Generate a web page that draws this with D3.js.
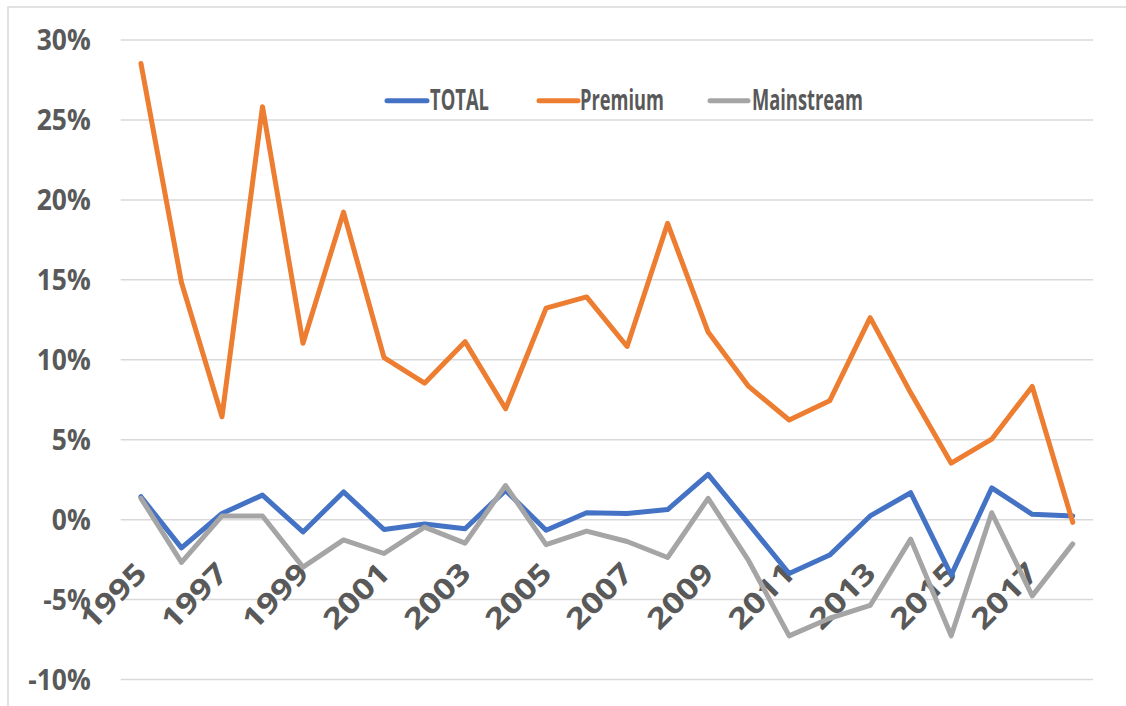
<!DOCTYPE html>
<html>
<head>
<meta charset="utf-8">
<script src="https://cdn.jsdelivr.net/npm/d3@7"></script>
<style>
  body { margin: 0; background: #fff; }
  svg { display: block; font-family: "Open Sans", "Noto Sans", sans-serif; }
</style>
</head>
<body>
<div id="chart"></div>
<script>
// data (annual % change)
const years = d3.range(1995, 2019).map(String);
const yTicks = [-10, -5, 0, 5, 10, 15, 20, 25, 30];
const total = [1.4, -1.8, 0.35, 1.5, -0.8, 1.7, -0.65, -0.3, -0.6, 1.8, -0.7, 0.4,
               0.35, 0.6, 2.8, -0.3, -3.4, -2.25, 0.2, 1.65, -3.5, 1.95, 0.3, 0.2];
const premium = [28.5, 14.8, 6.4, 25.8, 11.0, 19.2, 10.1, 8.5, 11.1, 6.9, 13.2, 13.9,
                 10.8, 18.5, 11.7, 8.3, 6.2, 7.4, 12.6, 7.9, 3.5, 5.0, 8.3, -0.2];
const mainstream = [1.3, -2.7, 0.2, 0.2, -3.0, -1.3, -2.15, -0.5, -1.5, 2.1, -1.6, -0.75,
                    -1.4, -2.4, 1.3, -2.6, -7.3, -6.2, -5.4, -1.25, -7.3, 0.4, -4.8, -1.55];

const series = [
  { name: "TOTAL", values: total, color: "#4472C4" },
  { name: "Premium", values: premium, color: "#ED7D31" },
  { name: "Mainstream", values: mainstream, color: "#A5A5A5" }
];

const W = 1126, H = 706;
const plot = { left: 120.7, right: 1093, top: 39.5, bottom: 679 };

const svg = d3.select("#chart").append("svg")
    .attr("width", W)
    .attr("height", H);

// outer frame (only top and left edges are visible in the picture)
svg.append("path")
    .attr("d", `M8,${H} L8,7 L${W},7`)
    .attr("fill", "none")
    .attr("stroke", "#d9d9d9")
    .attr("stroke-width", 1.5);

const x = d3.scalePoint()
    .domain(years)
    .range([plot.left, plot.right])
    .padding(0.5);

const y = d3.scaleLinear()
    .domain([-10, 30])
    .range([plot.bottom, plot.top]);

// gridlines
svg.append("g")
    .attr("transform", `translate(${plot.left},0)`)
    .call(d3.axisLeft(y).tickValues(yTicks).tickSize(-(plot.right - plot.left)).tickFormat(""))
    .call(g => g.select(".domain").remove())
    .call(g => g.selectAll("line").attr("stroke", "#d9d9d9").attr("stroke-width", 1.5));

// y labels (the reference font is a bit narrower than Open Sans, so squeeze it)
svg.append("g")
    .attr("transform", `translate(${plot.left - 30},0)`)
    .call(d3.axisLeft(y).tickValues(yTicks).tickSize(0).tickPadding(0).tickFormat(d => d + "%"))
    .call(g => g.select(".domain").remove())
    .call(g => g.selectAll("text")
        .attr("font-family", "Open Sans, sans-serif")
        .attr("font-size", 29)
        .attr("font-weight", 700)
        .attr("fill", "#595959")
        .attr("dy", "0.36em")
        .each(function() {
          const len = this.getComputedTextLength();
          d3.select(this).attr("textLength", len * 0.91).attr("lengthAdjust", "spacingAndGlyphs");
        }));

// x labels, every other year, rotated and stretched along the text direction
svg.append("g")
    .attr("transform", `translate(0,${y(0)})`)
    .call(d3.axisBottom(x).tickValues(years.filter((d, i) => i % 2 === 0)).tickSize(0).tickFormat(d => d))
    .call(g => g.select(".domain").remove())
    .call(g => g.selectAll("text")
        .attr("font-family", "Open Sans, sans-serif")
        .attr("font-size", 29)
        .attr("font-weight", 700)
        .attr("fill", "#595959")
        .attr("text-anchor", "end")
        .attr("y", 0)
        .attr("dy", 0)
        .attr("transform", "translate(7,56) rotate(-45) scale(1.2,1)"));

// lines
const line = d3.line()
    .x((d, i) => x(years[i]))
    .y(d => y(d));

svg.append("g")
  .selectAll("path")
  .data(series)
  .join("path")
    .attr("fill", "none")
    .attr("stroke", d => d.color)
    .attr("stroke-width", 5)
    .attr("stroke-linejoin", "round")
    .attr("stroke-linecap", "round")
    .attr("d", d => line(d.values));

// legend
const legendItems = [
  { x0: 387, x1: 427, tx: 430, tw: 59 },
  { x0: 539, x1: 578, tx: 580, tw: 84 },
  { x0: 710, x1: 748, tx: 752, tw: 111 }
];
const legend = svg.append("g")
  .selectAll("g")
  .data(series)
  .join("g");

legend.append("line")
    .attr("x1", (d, i) => legendItems[i].x0)
    .attr("x2", (d, i) => legendItems[i].x1)
    .attr("y1", 100.7)
    .attr("y2", 100.7)
    .attr("stroke", d => d.color)
    .attr("stroke-width", 5)
    .attr("stroke-linecap", "round");

legend.append("text")
    .attr("x", (d, i) => legendItems[i].tx)
    .attr("y", 110)
    .attr("font-size", 28)
    .attr("font-weight", 700)
    .attr("fill", "#595959")
    .attr("textLength", (d, i) => legendItems[i].tw)
    .attr("lengthAdjust", "spacingAndGlyphs")
    .text(d => d.name);
</script>
</body>
</html>
